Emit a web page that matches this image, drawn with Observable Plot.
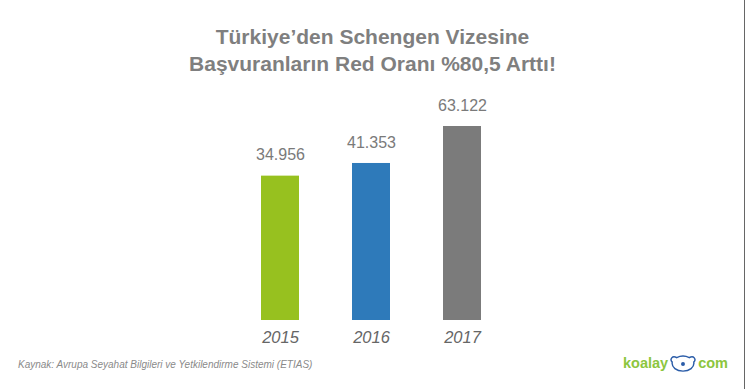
<!DOCTYPE html>
<html><head><meta charset="utf-8">
<script src="https://cdn.jsdelivr.net/npm/d3@7"></script>
<script src="https://cdn.jsdelivr.net/npm/@observablehq/plot@0.6"></script>
<style>
html,body{margin:0;padding:0;background:#fff;}
#wrap{position:relative;width:745px;height:389px;overflow:hidden;font-family:"Liberation Sans",Arial,sans-serif;}
#title{position:absolute;left:0;top:23px;width:745px;text-align:center;font-weight:bold;font-size:21px;line-height:27px;color:#7f7f7f;}
#src{position:absolute;left:18px;top:359px;font-style:italic;font-size:10px;color:#8a8a8a;}
#logo{position:absolute;left:623px;top:353px;height:20px;font-weight:bold;font-size:14.5px;color:#8cc63e;display:flex;align-items:center;}
#edge{position:absolute;right:0;top:0;width:1px;height:389px;background:#666;}
#chart{position:absolute;left:0;top:0;}
</style></head>
<body>
<div id="wrap">
<div id="chart"></div>
<div id="title">Türkiye’den Schengen Vizesine<br>Başvuranların Red Oranı %80,5 Arttı!</div>
<div id="src">Kaynak: Avrupa Seyahat Bilgileri ve Yetkilendirme Sistemi (ETIAS)</div>
<div id="logo"><span>koalay</span><svg width="28" height="18" viewBox="0 0 30 20" style="margin:0 1px"><path d="M8 4 C3 1,0 6,3 9 C2 15,8 19,15 19 C22 19,28 15,27 9 C30 6,27 1,22 4 C18 2,12 2,8 4 Z" fill="none" stroke="#2a5ca8" stroke-width="1.6"/><circle cx="15" cy="11" r="2.2" fill="#2a5ca8"/></svg><span>com</span></div>
<div id="edge"></div>
</div>
<script>
const years = ["2015", "2016", "2017"];
const values = [34956, 41353, 63122];
const labels = ["34.956", "41.353", "63.122"];
const colors = ["#97c11f", "#2e7aba", "#7b7b7b"];

const data = years.map((y, i) => ({year: y, value: values[i], label: labels[i], color: colors[i]}));

const chart = Plot.plot({
  width: 745,
  height: 389,
  marginTop: 126,
  marginBottom: 69,
  marginLeft: 206,
  marginRight: 209,
  style: {fontFamily: "Liberation Sans, Arial, sans-serif", background: "transparent"},
  x: {domain: years, padding: 0.587, label: null},
  y: {type: "sqrt", domain: [0, 63122], axis: null},
  marks: [
    Plot.barY(data, {x: "year", y: "value", fill: "color"}),
    Plot.text(data, {x: "year", y: "value", text: "label", dy: -21, fontSize: 16, fill: "#7a7a7a"}),
    Plot.axisX({tickSize: 0, tickPadding: 11, fontSize: 16.5, fontStyle: "italic", fill: "#666", label: null})
  ]
});
document.getElementById("chart").appendChild(chart);
</script>
</body></html>
